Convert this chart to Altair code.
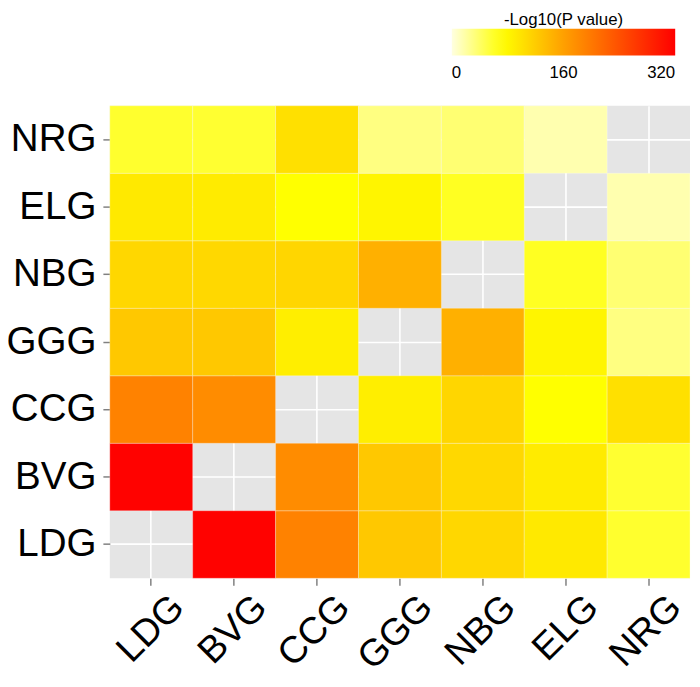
import altair as alt
import pandas as pd

categories = ["LDG", "BVG", "CCG", "GGG", "NBG", "ELG", "NRG"]

# -Log10(P value), rows = y category, columns in `categories` order (None = diagonal)
row_LDG = [None, 318, 190, 123, 110, 93, 58]
row_BVG = [318, None, 180, 123, 109, 91, 57]
row_CCG = [190, 180, None, 89, 111, 73, 101]
row_GGG = [123, 123, 89, None, 145, 82, 31]
row_NBG = [110, 109, 111, 145, None, 62, 36]
row_ELG = [93, 91, 73, 82, 62, None, 16]
row_NRG = [58, 57, 101, 31, 36, 16, None]

rows = {"LDG": row_LDG, "BVG": row_BVG, "CCG": row_CCG, "GGG": row_GGG,
        "NBG": row_NBG, "ELG": row_ELG, "NRG": row_NRG}

legend_ticks = [0, 160, 320]

records = []
for ycat, vals in rows.items():
    for xcat, v in zip(categories, vals):
        if v is not None:
            records.append({"x": xcat, "y": ycat, "v": v})
df = pd.DataFrame(records)

FONT = "Liberation Sans"

chart = alt.Chart(df).mark_rect(
    stroke="white", strokeWidth=0.8, strokeOpacity=0.35
).encode(
    x=alt.X("x:N", sort=categories, title=None,
            scale=alt.Scale(domain=categories, paddingInner=0, paddingOuter=0),
            axis=alt.Axis(labelAngle=-45, labelAlign="right", labelBaseline="top",
                          labelFontSize=38, labelFont=FONT, labelColor="black",
                          labelPadding=3, labelOffset=14,
                          tickColor="#808080", tickSize=7, tickWidth=1.5,
                          domain=False, grid=True, gridColor="white", gridWidth=1.6,
                          bandPosition=0.5, zindex=0)),
    y=alt.Y("y:N", title=None,
            scale=alt.Scale(domain=list(reversed(categories)), paddingInner=0, paddingOuter=0),
            axis=alt.Axis(labelFontSize=39, labelFont=FONT, labelColor="black",
                          labelPadding=7,
                          tickColor="#808080", tickSize=7, tickWidth=1.5,
                          domain=False, grid=True, gridColor="white", gridWidth=1.6,
                          bandPosition=0.5, zindex=0)),
    color=alt.Color("v:Q",
                    scale=alt.Scale(domain=[0, 73, 160, 320],
                                    range=["#FFFFE0", "#FFFF00", "#FFA000", "#FF0000"],
                                    interpolate="rgb"),
                    legend=alt.Legend(title="-Log10(P value)", orient="none",
                                      direction="horizontal",
                                      legendX=346, legendY=-95,
                                      gradientLength=226, gradientThickness=27,
                                      gradientStrokeWidth=0,
                                      values=legend_ticks,
                                      titleFont=FONT, titleFontSize=17,
                                      titleFontWeight="normal", titleColor="black",
                                      titleAnchor="middle", titlePadding=0,
                                      labelFont=FONT, labelFontSize=17,
                                      labelColor="black", labelAlign="center",
                                      labelOffset=10)),
).properties(
    width=587, height=478,
    autosize=alt.AutoSizeParams(type="none"),
    padding={"left": 103, "top": 95, "right": 2, "bottom": 99},
).configure_view(
    fill="#E5E5E5", stroke=None
)

chart.save("out.html", embed_options={"renderer": "svg", "actions": False})
